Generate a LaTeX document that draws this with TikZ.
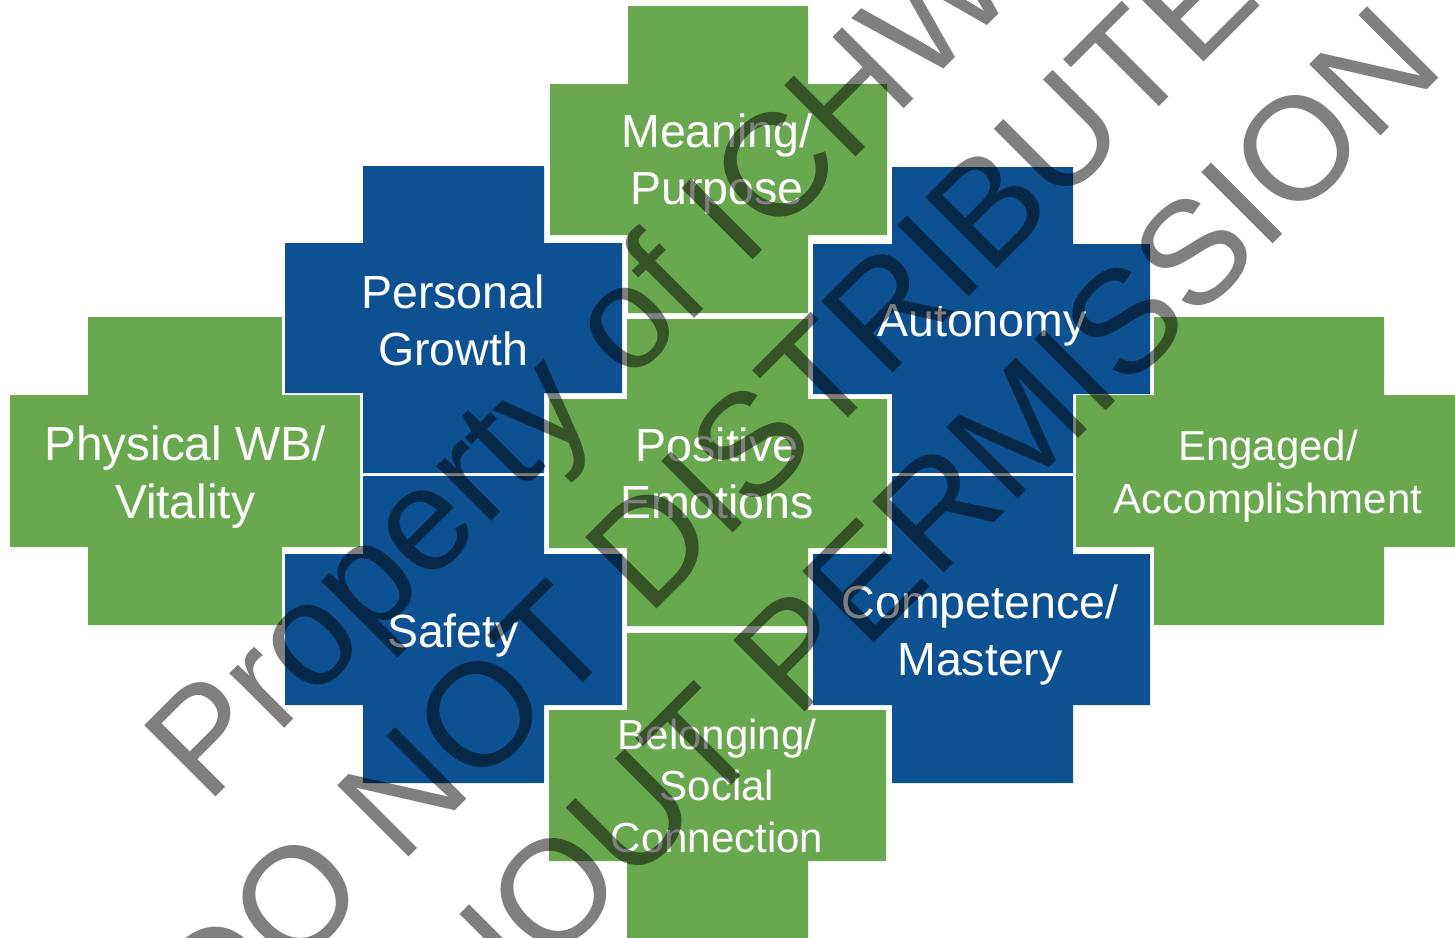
\documentclass[tikz,border=0pt]{standalone}
\usepackage{fontspec}
\setmainfont{Liberation Sans}
\definecolor{grn}{RGB}{106,168,79}
\definecolor{blu}{RGB}{14,81,146}
\tikzset{
  lbl/.style={text=white, align=center, anchor=base, inner sep=0pt, font=\fontsize{46.5}{57}\selectfont},
  lblbig/.style={lbl, font=\fontsize{47.8}{58}\selectfont},
  lblsm/.style={lbl, font=\fontsize{42}{53}\selectfont},
  lblthree/.style={lbl, font=\fontsize{42}{51.5}\selectfont},
  wm/.style={text=black, text opacity=0.5, anchor=base, rotate=45, inner sep=0pt, font=\fontsize{146.6}{176}\selectfont}
}
\begin{document}
\begin{tikzpicture}[x=1pt,y=-1pt]
\useasboundingbox (0,0) rectangle (1455,937);
\clip (0,0) rectangle (1455,937);
% crosses: vertical bar, horizontal bar
\fill[grn] (628,6) rectangle (808,313) (550,84) rectangle (887,235);      % Meaning
\fill[blu] (363,166) rectangle (544,473) (285,243) rectangle (622,393);   % Personal Growth
\fill[grn] (88,317) rectangle (282,625) (10,395) rectangle (360,547);     % Physical
\fill[grn] (627,319) rectangle (808,626) (549,399) rectangle (887,548);    % Positive
\fill[blu] (892,167) rectangle (1073,473) (813,244) rectangle (1150,394); % Autonomy
\fill[blu] (363,476) rectangle (544,783) (285,554) rectangle (622,705);   % Safety
\fill[blu] (892,476) rectangle (1073,783) (813,554) rectangle (1150,705); % Competence
\fill[grn] (1154,317) rectangle (1384,625) (1076,395) rectangle (1460,547); % Engaged
\fill[grn] (627,633) rectangle (808,940) (549,710) rectangle (886,861);   % Belonging
% labels (base anchor = baseline of last line)
\node[lbl] (mp) at (717,204) {Meaning/\\Purpose};
\node[lbl] (pg) at (453,365) {Personal\\Growth};
\node[lblbig] (pw) at (185,518) {Physical WB/\\Vitality};
\node[lbl] (pe) at (717,518) {Positive\\Emotions};
\node[lbl] (au) at (982,336) {Autonomy};
\node[lbl] (sa) at (453,647) {Safety};
\node[lbl] (cm) at (980,675) {Competence/\\Mastery};
\node[lblsm] (ea) at (1268,513) {Engaged/\\Accomplishment};
\node[lblthree] (bs) at (717,852) {Belonging/\\Social\\Connection};
% watermark
\node[wm] (w1) at (614,399) {Property of ICHW};
\node[wm] (w2) at (740.5,525.5) {DO NOT DISTRIBUTE};
\node[wm] (w3) at (866,651) {WITHOUT PERMISSION};
\end{tikzpicture}
\end{document}
